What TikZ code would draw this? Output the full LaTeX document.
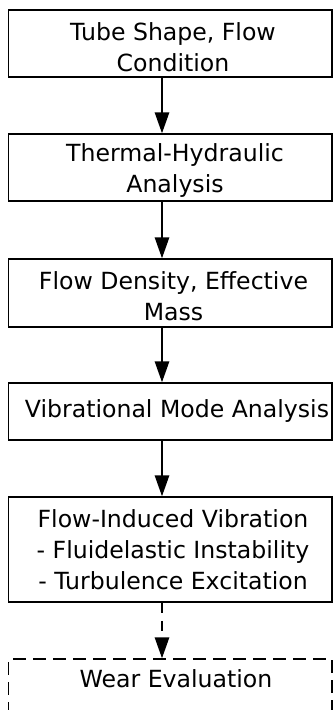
\documentclass[tikz,border=0pt]{standalone}
\usepackage{fontspec}
\setmainfont{DejaVu Sans}
\usetikzlibrary{arrows.meta}
\begin{document}
\begin{tikzpicture}[x=1pt,y=-1pt,
  box/.style={draw, line width=1.5pt, minimum width=323.5pt, inner sep=0pt},
  dbox/.style={box, dash pattern=on 13pt off 7pt},
  txt/.style={align=center, inner sep=0pt, font=\fontsize{23.6}{31}\selectfont},
  arr/.style={line width=1.5pt, -{Triangle[length=21pt,width=14.5pt]}},
  darr/.style={arr, dash pattern=on 10pt off 8pt}]
\useasboundingbox (0,0) rectangle (333,710);
\clip (0,0) rectangle (333,710);
\coordinate (ax) at (162,0);
\node[box, minimum height=67pt] (b1) at (170.25,43.5) {};
\node[box, minimum height=67pt] (b2) at (170.25,167.5) {};
\node[box, minimum height=68pt] (b3) at (170.25,293) {};
\node[box, minimum height=57pt] (b4) at (170.25,411.5) {};
\node[box, minimum height=105pt] (b5) at (170.25,549.5) {};
\node[dbox, minimum height=70pt] (b6) at (170.25,694) {};
\node[txt] (t1) at (173,47) {Tube Shape, Flow\\Condition};
\node[txt] (t2) at (175,170.5) {Thermal-Hydraulic\\Analysis};
\node[txt] (t3) at (173.5,296) {Flow Density, Effective\\Mass};
\node[txt] (t4) at (177,411) {Vibrational Mode Analysis};
\node[txt] (t5) at (173,550) {Flow-Induced Vibration\\- Fluidelastic Instability\\- Turbulence Excitation};
\node[txt, anchor=base] (t6) at (176,687) {Wear Evaluation};
\draw[arr] (b1.south -| ax) -- (b2.north -| ax);
\draw[arr] (b2.south -| ax) -- (b3.north -| ax);
\draw[arr] (b3.south -| ax) -- (b4.north -| ax);
\draw[arr] (b4.south -| ax) -- (b5.north -| ax);
\draw[darr] (b5.south -| ax) -- (b6.north -| ax);
\end{tikzpicture}
\end{document}
